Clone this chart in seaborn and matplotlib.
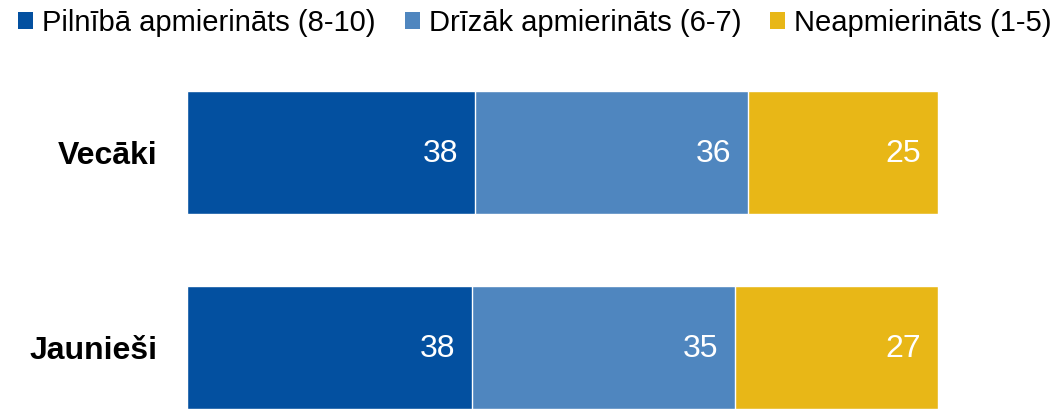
import matplotlib
matplotlib.use('Agg')
import matplotlib.pyplot as plt
import seaborn as sns
import pandas as pd
from matplotlib.patches import Patch

# data
groups = ['Vecāki', 'Jaunieši']
series = ['Pilnībā apmierināts (8-10)', 'Drīzāk apmierināts (6-7)', 'Neapmierināts (1-5)']
fully_satisfied = [38, 38]
rather_satisfied = [36, 35]
dissatisfied = [25, 27]
colors = ['#0350A0', '#4F86BF', '#E8B717']

df = pd.DataFrame({series[0]: fully_satisfied,
                   series[1]: rather_satisfied,
                   series[2]: dissatisfied}, index=groups)
# 100% stacked
share = df.div(df.sum(axis=1), axis=0) * 100
cum = share.cumsum(axis=1)

sns.set_theme(style='white')
plt.rcParams['font.family'] = ['Liberation Sans', 'DejaVu Sans']
plt.rcParams['text.color'] = 'black'
plt.rcParams['ytick.color'] = 'black'

fig = plt.figure(figsize=(10.51, 4.09), dpi=100)
ax = fig.add_axes([187 / 1051, 0, 751 / 1051, 318 / 409])

# draw longest (cumulative) first, shorter ones on top
for col, color in reversed(list(zip(series, colors))):
    sns.barplot(x=cum[col].values, y=groups, orient='h', color=color,
                saturation=1, width=0.63, edgecolor='white', linewidth=1, ax=ax)

for i, g in enumerate(groups):
    for col in series:
        ax.annotate(str(df.loc[g, col]), xy=(cum.loc[g, col], i),
                    xytext=(-12, -1), textcoords='offset points',
                    ha='right', va='center', color='white', fontsize=23)

ax.set_xlim(0, 100)
ax.set_ylim(1.315, -0.315)
ax.set_xticks([])
ax.set_xlabel('')
ax.set_ylabel('')
ax.tick_params(axis='y', length=0, pad=21, labelsize=23, labelcolor='black')
for lbl in ax.get_yticklabels():
    lbl.set_fontweight('bold')
sns.despine(ax=ax, left=True, bottom=True)

handles = [Patch(facecolor=c, edgecolor='none') for c in colors]
fig.legend(handles, series, loc='center left', bbox_to_anchor=(18 / 1051, 1 - 23 / 409),
           ncol=3, frameon=False, fontsize=21, handlelength=0.52, handleheight=0.52,
           handletextpad=0.3, columnspacing=1.0, borderpad=0, borderaxespad=0)

plt.savefig('out.png', dpi=100)
plt.close()
